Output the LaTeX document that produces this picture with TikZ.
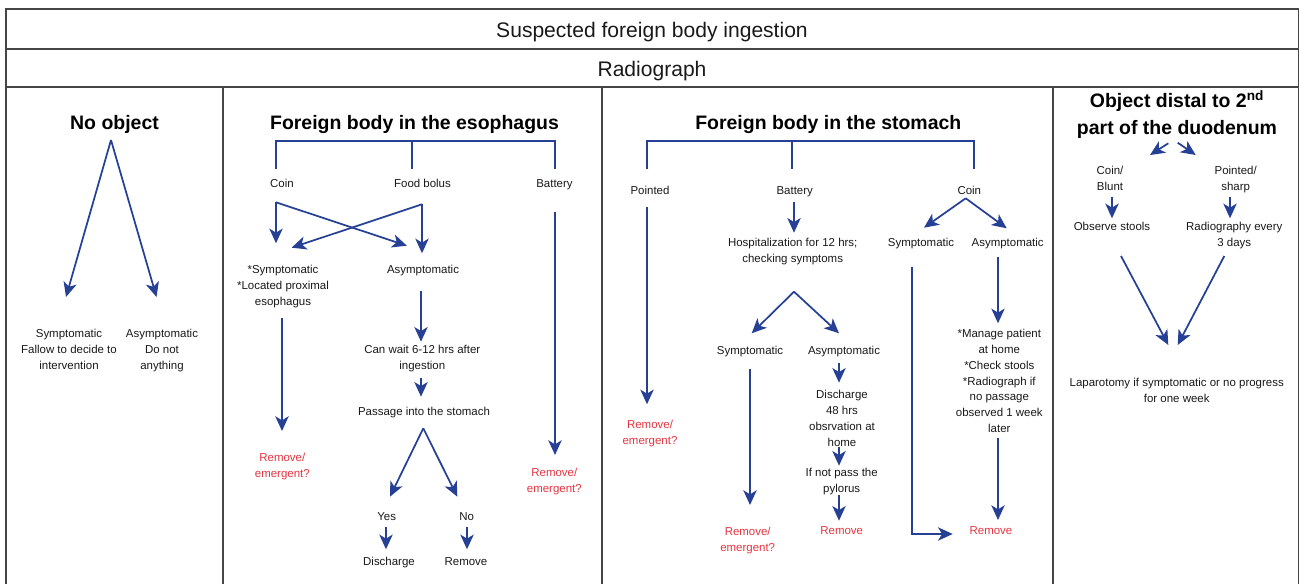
\documentclass[tikz,border=0pt]{standalone}
\usepackage{fontspec}
\setmainfont{Liberation Sans}
\usetikzlibrary{arrows.meta}
\definecolor{fbblue}{RGB}{38,64,150}
\definecolor{fbred}{RGB}{228,52,64}
\definecolor{fbgray}{RGB}{70,70,70}
\definecolor{fbtext}{RGB}{25,25,25}
\begin{document}
\begin{tikzpicture}[x=0.75pt,y=-0.75pt,
  frame/.style={draw=fbgray,line width=1.1pt},
  arr/.style={draw=fbblue,line width=1.3pt,-{Stealth[length=11pt,width=10pt,inset=3pt]}},
  ln/.style={draw=fbblue,line width=1.3pt},
  txt/.style={anchor=north,inner sep=0pt,align=center,text=fbtext,font=\fontsize{8.6}{12}\selectfont},
  redtxt/.style={txt,text=fbred},
  head/.style={anchor=north,inner sep=0pt,align=center,text=black,font=\fontsize{14.6}{20}\selectfont\bfseries},
  banner/.style={anchor=north,inner sep=0pt,text=fbtext,font=\fontsize{15.8}{19}\selectfont}]
\useasboundingbox (0,0) rectangle (1304,584);
% frame
\draw[frame] (6,584) -- (6,9) -- (1298.5,9) -- (1298.5,584);
\draw[frame] (6,49) -- (1298.5,49);
\draw[frame] (6,87) -- (1298.5,87);
\draw[frame] (223,87) -- (223,584);
\draw[frame] (602,87) -- (602,584);
\draw[frame] (1053,87) -- (1053,584);
\node[banner] (title) at (652,21.5) {Suspected foreign body ingestion};
\node[banner] (radio) at (652,60.5) {Radiograph};

% ---------- Panel 1: No object
\node[head] (h1) at (114.5,114.7) {No object};
\node[txt] (p1s) at (69,329.4) {Symptomatic\\Fallow to decide to\\intervention};
\node[txt] (p1a) at (162,329.4) {Asymptomatic\\Do not\\anything};
\coordinate (c1) at (111,140);
\coordinate (c1l) at (66,297);
\coordinate (c1r) at (156.5,297);
\draw[arr] (c1) -- (c1l);
\draw[arr] (c1) -- (c1r);

% ---------- Panel 2: esophagus
\node[head] (h2) at (414.5,114.7) {Foreign body in the esophagus};
\coordinate (b2l) at (276,169.3);
\coordinate (b2m) at (412,169.3);
\coordinate (b2r) at (555,169.3);
\draw[ln] (b2l) -- (276,141) -- (555,141) -- (b2r);
\draw[ln] (412,141) -- (b2m);
\node[txt] (e2coin) at (282,178.9) {Coin};
\node[txt] (e2food) at (422.5,178.9) {Food bolus};
\node[txt] (e2bat) at (554.5,178.9) {Battery};
\node[txt] (e2sym) at (283,264.9) {*Symptomatic\\*Located proximal\\esophagus};
\node[txt] (e2asym) at (423,264.9) {Asymptomatic};
\coordinate (cs) at (276,202.3);
\coordinate (cs1) at (276,243.3);
\coordinate (cs2) at (406.8,245.7);
\draw[arr] (cs) -- (cs1);
\draw[arr] (cs) -- (cs2);
\coordinate (fs) at (422,204.3);
\coordinate (fs1) at (422,253.3);
\coordinate (fs2) at (291.6,247.7);
\draw[arr] (fs) -- (fs1);
\draw[arr] (fs) -- (fs2);
\node[redtxt] (e2rem1) at (282.3,452.9) {Remove/\\emergent?};
\coordinate (s2a) at (282,318);
\coordinate (s2b) at (282,431);
\draw[arr] (s2a) -- (s2b);
\node[txt] (e2wait) at (422.3,345.2) {Can wait 6-12 hrs after\\ingestion};
\coordinate (a2a) at (421,291);
\coordinate (a2b) at (421,341.7);
\draw[arr] (a2a) -- (a2b);
\node[txt] (e2pass) at (424,406.6) {Passage into the stomach};
\coordinate (w2a) at (421,377.7);
\coordinate (w2b) at (421,396.7);
\draw[arr] (w2a) -- (w2b);
\coordinate (p2) at (423.3,428.3);
\coordinate (p2l) at (390,496.7);
\coordinate (p2r) at (457.3,496.7);
\draw[arr] (p2) -- (p2l);
\draw[arr] (p2) -- (p2r);
\node[txt] (e2yes) at (386.7,511.9) {Yes};
\node[txt] (e2no) at (466.7,511.9) {No};
\coordinate (y2a) at (386,526.7);
\coordinate (y2b) at (386,549.3);
\coordinate (n2a) at (467,526.7);
\coordinate (n2b) at (467,549.3);
\draw[arr] (y2a) -- (y2b);
\draw[arr] (n2a) -- (n2b);
\node[txt] (e2dis) at (389,556.9) {Discharge};
\node[txt] (e2rem) at (466,556.9) {Remove};
\coordinate (bt2a) at (555,212);
\coordinate (bt2b) at (555,455);
\draw[arr] (bt2a) -- (bt2b);
\node[redtxt] (e2rem2) at (554.3,468.2) {Remove/\\emergent?};

% ---------- Panel 3: stomach
\node[head] (h3) at (828.3,114.7) {Foreign body in the stomach};
\coordinate (b3l) at (647,169.3);
\coordinate (b3m) at (792,169.3);
\coordinate (b3r) at (974,169.3);
\draw[ln] (b3l) -- (647,141) -- (974,141) -- (b3r);
\draw[ln] (792,141) -- (b3m);
\node[txt] (s3pt) at (650,185.9) {Pointed};
\node[txt] (s3bat) at (794.7,185.9) {Battery};
\node[txt] (s3coin) at (969.3,185.9) {Coin};
% pointed
\coordinate (pt3a) at (647,206.7);
\coordinate (pt3b) at (647,404.3);
\draw[arr] (pt3a) -- (pt3b);
\node[redtxt] (s3rem1) at (650,419.9) {Remove/\\emergent?};
% battery
\coordinate (bt3a) at (794,201.7);
\coordinate (bt3b) at (794,232.7);
\draw[arr] (bt3a) -- (bt3b);
\node[txt] (s3hosp) at (792.7,237.6) {Hospitalization for 12 hrs;\\checking symptoms};
\coordinate (h3p) at (794,291.7);
\coordinate (h3l) at (751.7,333.3);
\coordinate (h3r) at (839,333.3);
\draw[arr] (h3p) -- (h3l);
\draw[arr] (h3p) -- (h3r);
\node[txt] (s3sym) at (750,345.9) {Symptomatic};
\node[txt] (s3asym) at (844,345.9) {Asymptomatic};
\coordinate (sy3a) at (750,369.3);
\coordinate (sy3b) at (750,505);
\draw[arr] (sy3a) -- (sy3b);
\node[redtxt] (s3rem2) at (747.7,526.6) {Remove/\\emergent?};
\coordinate (as3a) at (839,363.3);
\coordinate (as3b) at (839,382.7);
\draw[arr] (as3a) -- (as3b);
\node[txt] (s3dis) at (842,389.9) {Discharge\\48 hrs\\obsrvation at\\home};
\coordinate (ds3a) at (839,446.7);
\coordinate (ds3b) at (839,465.7);
\draw[arr] (ds3a) -- (ds3b);
\node[txt] (s3pyl) at (841.7,468.2) {If not pass the\\pylorus};
\coordinate (py3a) at (839,495);
\coordinate (py3b) at (839,520.7);
\draw[arr] (py3a) -- (py3b);
\node[redtxt] (s3rem3) at (841.7,526.6) {Remove};
% coin
\coordinate (co3) at (965.7,198.3);
\coordinate (co3l) at (924,227.7);
\coordinate (co3r) at (1006.7,228.3);
\draw[arr] (co3) -- (co3l);
\draw[arr] (co3) -- (co3r);
\node[txt] (s3csym) at (921,237.6) {Symptomatic};
\node[txt] (s3casym) at (1007.7,237.6) {Asymptomatic};
\coordinate (cs3a) at (912,267.3);
\coordinate (cs3b) at (952.7,534);
\draw[arr] (cs3a) |- (cs3b);
\coordinate (ca3a) at (998,257.3);
\coordinate (ca3b) at (998,323.3);
\draw[arr] (ca3a) -- (ca3b);
\node[txt,font=\fontsize{8.6}{11.85}\selectfont] (s3man) at (999.3,329.2) {*Manage patient\\at home\\*Check stools\\*Radiograph if\\no passage\\observed 1 week\\later};
\coordinate (mn3a) at (998,438.3);
\coordinate (mn3b) at (998,520);
\draw[arr] (mn3a) -- (mn3b);
\node[redtxt] (s3rem4) at (991,526.6) {Remove};

% ---------- Panel 4: distal
\node[head] (h4) at (1177,93) {Object distal to 2\smash{\textsuperscript{nd}}\\part of the duodenum};
\coordinate (d4l) at (1168.3,143.3);
\coordinate (d4le) at (1150,155);
\coordinate (d4r) at (1177.7,142.7);
\coordinate (d4re) at (1195.7,155);
\draw[arr] (d4l) -- (d4le);
\draw[arr] (d4r) -- (d4re);
\node[txt] (d4coin) at (1110,165.9) {Coin/\\Blunt};
\node[txt] (d4pt) at (1235.7,165.9) {Pointed/\\sharp};
\coordinate (cb4a) at (1112,196.7);
\coordinate (cb4b) at (1112,218.3);
\coordinate (ps4a) at (1230,196.7);
\coordinate (ps4b) at (1230,218.3);
\draw[arr] (cb4a) -- (cb4b);
\draw[arr] (ps4a) -- (ps4b);
\node[txt] (d4obs) at (1112,221.9) {Observe stools};
\node[txt] (d4rad) at (1234.3,221.9) {Radiography every\\3 days};
\coordinate (ob4a) at (1121,256);
\coordinate (ob4b) at (1168.3,345);
\coordinate (ra4a) at (1224.3,256);
\coordinate (ra4b) at (1177.7,345);
\draw[arr] (ob4a) -- (ob4b);
\draw[arr] (ra4a) -- (ra4b);
\node[txt] (d4lap) at (1176.7,377.6) {Laparotomy if symptomatic or no progress\\for one week};
\end{tikzpicture}
\end{document}
